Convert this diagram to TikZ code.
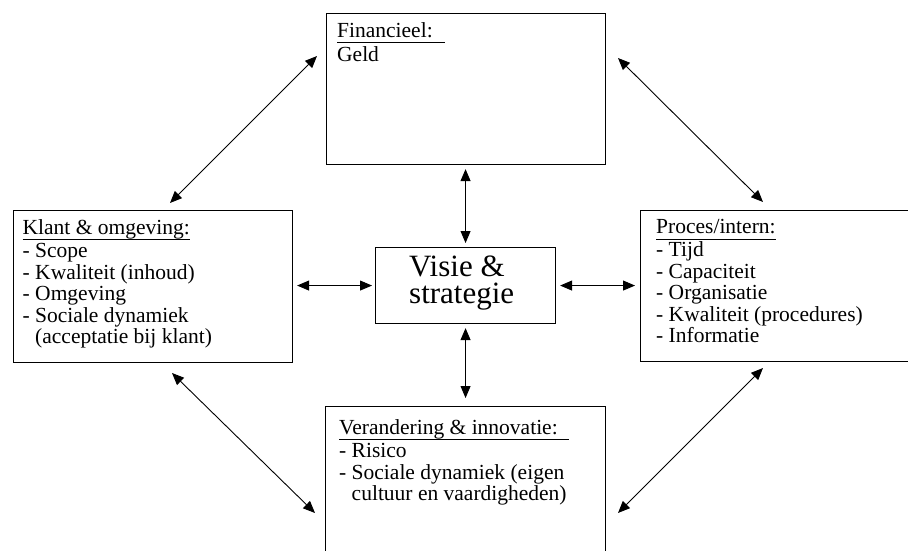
\documentclass[tikz,border=0pt]{standalone}
\usepackage{fontspec}
\setmainfont{Liberation Serif}
\usetikzlibrary{arrows.meta}
% heading with a rule under it; optional argument lengthens the rule
\newcommand\hdline[2][0pt]{\setbox0\hbox{#2}\rlap{\rule[-5.6pt]{\dimexpr\wd0+#1\relax}{0.8pt}}\box0}
\begin{document}
\begin{tikzpicture}[x=1pt,y=-1pt,
  box/.style={draw, line width=1.1pt, inner sep=0pt, anchor=north west},
  body/.style={anchor=north west, inner sep=0pt, align=left,
    font=\fontsize{21.5}{21.5}\selectfont},
  link/.style={{Triangle[length=12pt,width=10pt]}-{Triangle[length=12pt,width=10pt]},
    line width=0.9pt}]
\useasboundingbox (0,0) rectangle (908,551);
\clip (0,0) rectangle (908,551);

% frames
\node[box, minimum width=279pt, minimum height=151pt] (fin)   at (326,13)  {};
\node[box, minimum width=279pt, minimum height=152pt] (klant) at (13,210)  {};
\node[box, minimum width=300pt, minimum height=151pt] (proc)  at (640,210) {};
\node[box, minimum width=180pt, minimum height=76pt]  (vis)   at (375,247) {};
\node[box, minimum width=280pt, minimum height=180pt] (ver)   at (325,406) {};

% texts
\node[body] (finT) at (337,22.5) {\hdline[12pt]{Financieel:}\\[2pt]Geld};
\node[body] (klantT) at (22.5,219.5) {\hdline{Klant \& omgeving:}\\[1.5pt]- Scope\\- Kwaliteit (inhoud)\\- Omgeving\\- Sociale dynamiek\\\phantom{-}\ (acceptatie bij klant)};
\node[body] (procT) at (656,219.5) {\hdline{Proces/intern:}\\[1.5pt]- Tijd\\- Capaciteit\\- Organisatie\\- Kwaliteit (procedures)\\- Informatie};
\node[body] (verT) at (339,419.5) {\hdline[11pt]{Verandering \& innovatie:}\\[1.5pt]- Risico\\- Sociale dynamiek (eigen\\\phantom{-}\ cultuur en vaardigheden)};
\node[anchor=north west, inner sep=0pt, align=left, font=\fontsize{31}{27}\selectfont]
  (visT) at (409,256) {Visie \&\\strategie};

% links to the centre
\draw[link, shorten <=4pt, shorten >=4pt] (vis.north |- fin.south) -- (vis.north);
\draw[link, shorten <=4pt, shorten >=8pt] (vis.south) -- (vis.south |- ver.north);
\draw[link, shorten <=4pt, shorten >=3pt] (klant.east |- vis.west) -- (vis.west);
\draw[link, shorten <=4pt, shorten >=5pt] (vis.east) -- (proc.west |- vis.east);

% links around the outside
\coordinate (d1a) at (170,203); \coordinate (d1b) at (317,56);
\coordinate (d2a) at (618,58);  \coordinate (d2b) at (763,202);
\coordinate (d3a) at (172,373); \coordinate (d3b) at (315,513);
\coordinate (d4a) at (763,368); \coordinate (d4b) at (618,513);
\draw[link] (d1a) -- (d1b);
\draw[link] (d2a) -- (d2b);
\draw[link] (d3a) -- (d3b);
\draw[link] (d4a) -- (d4b);
\end{tikzpicture}
\end{document}
